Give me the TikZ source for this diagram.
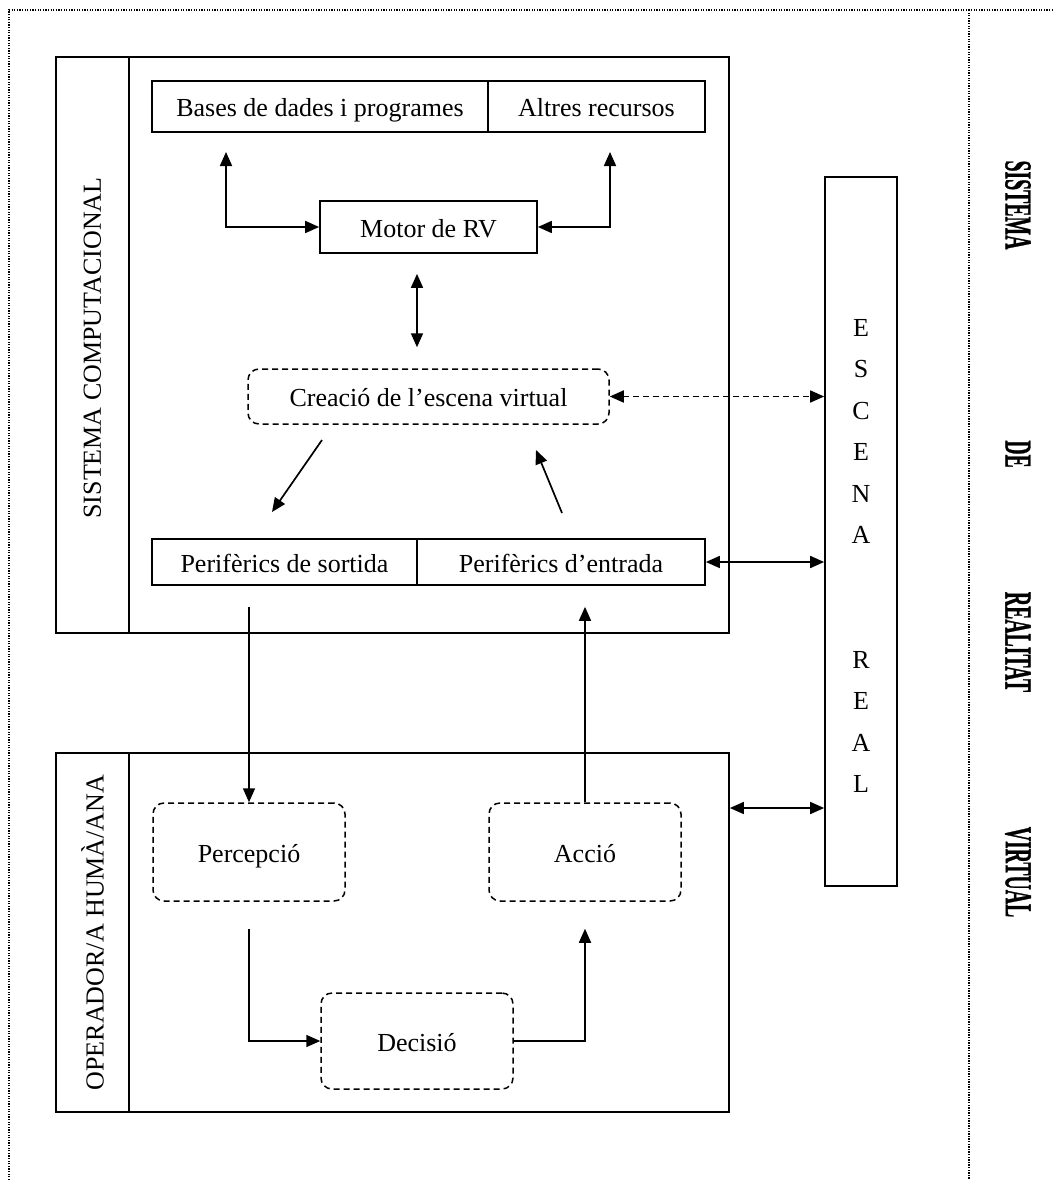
\documentclass[tikz,border=0pt]{standalone}
\usepackage{fontspec}
\usepackage{graphicx}
\setmainfont{Liberation Serif}
\newfontfamily\titlefont[FakeBold=1.2]{Liberation Serif}
\usetikzlibrary{arrows.meta}
\begin{document}
\begin{tikzpicture}[x=1pt,y=-1pt,
  txt/.style={font=\fontsize{26}{31}\selectfont},
  box/.style={draw, line width=1.7pt, rectangle, inner sep=0pt, text height=22pt, text depth=2pt, txt},
  soft/.style={draw, line width=1.5pt, dash pattern=on 6pt off 4pt, rounded corners=11pt, inner sep=0pt, text height=22pt, text depth=2pt, txt},
  frame/.style={line width=1.3pt, dash pattern=on 1.3pt off 1.3pt},
  tip/.tip={Triangle[length=14pt,width=12pt]},
  arr/.style={line width=1.7pt, -tip},
  dbl/.style={line width=1.7pt, tip-tip},
  title/.style={font=\fontsize{38}{40}\selectfont\titlefont\bfseries, rotate=-90, inner sep=0pt}
]
\useasboundingbox (0,0) rectangle (1054,1180);

% outer dotted frame
\draw[frame] (9,1180) -- (9,10) -- (1054,10);
\draw[frame] (969,10) -- (969,1180);

% computational system
\node[box, minimum width=673pt, minimum height=576pt] (sc) at (392.5,345) {};
\draw[line width=1.7pt] (129,57) -- (129,633);
\node[txt, rotate=90] (sclab) at (92.5,348) {SISTEMA COMPUTACIONAL};

\node[box, minimum width=336pt, minimum height=51pt] (bd) at (320,106.5) {Bases de dades i programes};
\node[box, minimum width=217pt, minimum height=51pt] (ar) at (596.5,106.5) {Altres recursos};
\node[box, minimum width=217pt, minimum height=52pt] (motor) at (428.5,227) {Motor de RV};
\node[soft, minimum width=361pt, minimum height=55pt] (cre) at (428.5,396.5) {Creació de l’escena virtual};
\node[box, minimum width=265pt, minimum height=46pt] (ps) at (284.5,562) {Perifèrics de sortida};
\node[box, minimum width=288pt, minimum height=46pt] (pe) at (561,562) {Perifèrics d’entrada};

% human operator
\node[box, minimum width=673pt, minimum height=359pt] (op) at (392.5,932.5) {};
\draw[line width=1.7pt] (129,753) -- (129,1112);
\node[txt, rotate=90] (oplab) at (92.5,932.5) {OPERADOR/A HUMÀ/ANA};

\node[soft, minimum width=192pt, minimum height=98pt] (perc) at (249,852) {Percepció};
\node[soft, minimum width=192pt, minimum height=98pt] (acc) at (585,852) {Acció};
\node[soft, minimum width=192pt, minimum height=96pt] (dec) at (417,1041) {Decisió};

% real scene
\node[box, minimum width=72pt, minimum height=709pt] (esc) at (861,531.5) {};
\node[font=\fontsize{26}{41.5}\selectfont, align=center, inner sep=0pt] (esclab) at (861,556)
  {E\\S\\C\\E\\N\\A\\[83pt]R\\E\\A\\L};

% title, set in a condensed bold face
\node[title] (t1) at (1018,205) {\scalebox{0.52}[1]{SISTEMA}};
\node[title] (t2) at (1018,454) {\scalebox{0.52}[1]{DE}};
\node[title] (t3) at (1018,642) {\scalebox{0.52}[1]{REALITAT}};
\node[title] (t4) at (1018,872) {\scalebox{0.52}[1]{VIRTUAL}};

% connectors inside the computational system
\coordinate (bdend) at (226,152);
\coordinate (arend) at (610,152);
\draw[dbl] (bdend) |- (motor.west);
\draw[dbl] (arend) |- (motor.east);
\draw[dbl, shorten <=20pt, shorten >=21pt] ([xshift=-11.5pt]motor.south) -- ([xshift=-11.5pt]cre.north);
\draw[dbl, dash pattern=on 6pt off 4pt] (cre.east) -- (cre.east -| esc.west);
\coordinate (c1a) at (322,440);
\coordinate (c1b) at (272,512);
\coordinate (c2a) at (562,513);
\coordinate (c2b) at (536,450);
\draw[arr] (c1a) -- (c1b);
\draw[arr] (c2a) -- (c2b);
\draw[dbl] (pe.east) -- (pe.east -| esc.west);

% connectors between the two systems
\draw[arr, shorten <=21pt] (perc.north |- ps.south) -- (perc.north);
\draw[arr, shorten >=21pt] (acc.north) -- (acc.north |- pe.south);
\draw[dbl] ([yshift=124.5pt]op.east) -- ([yshift=124.5pt]op.east -| esc.west);

% operator loop
\draw[arr, shorten <=27pt] (perc.south) |- (dec.west);
\draw[arr, shorten >=27pt] (dec.east) -| (acc.south);
\end{tikzpicture}
\end{document}
